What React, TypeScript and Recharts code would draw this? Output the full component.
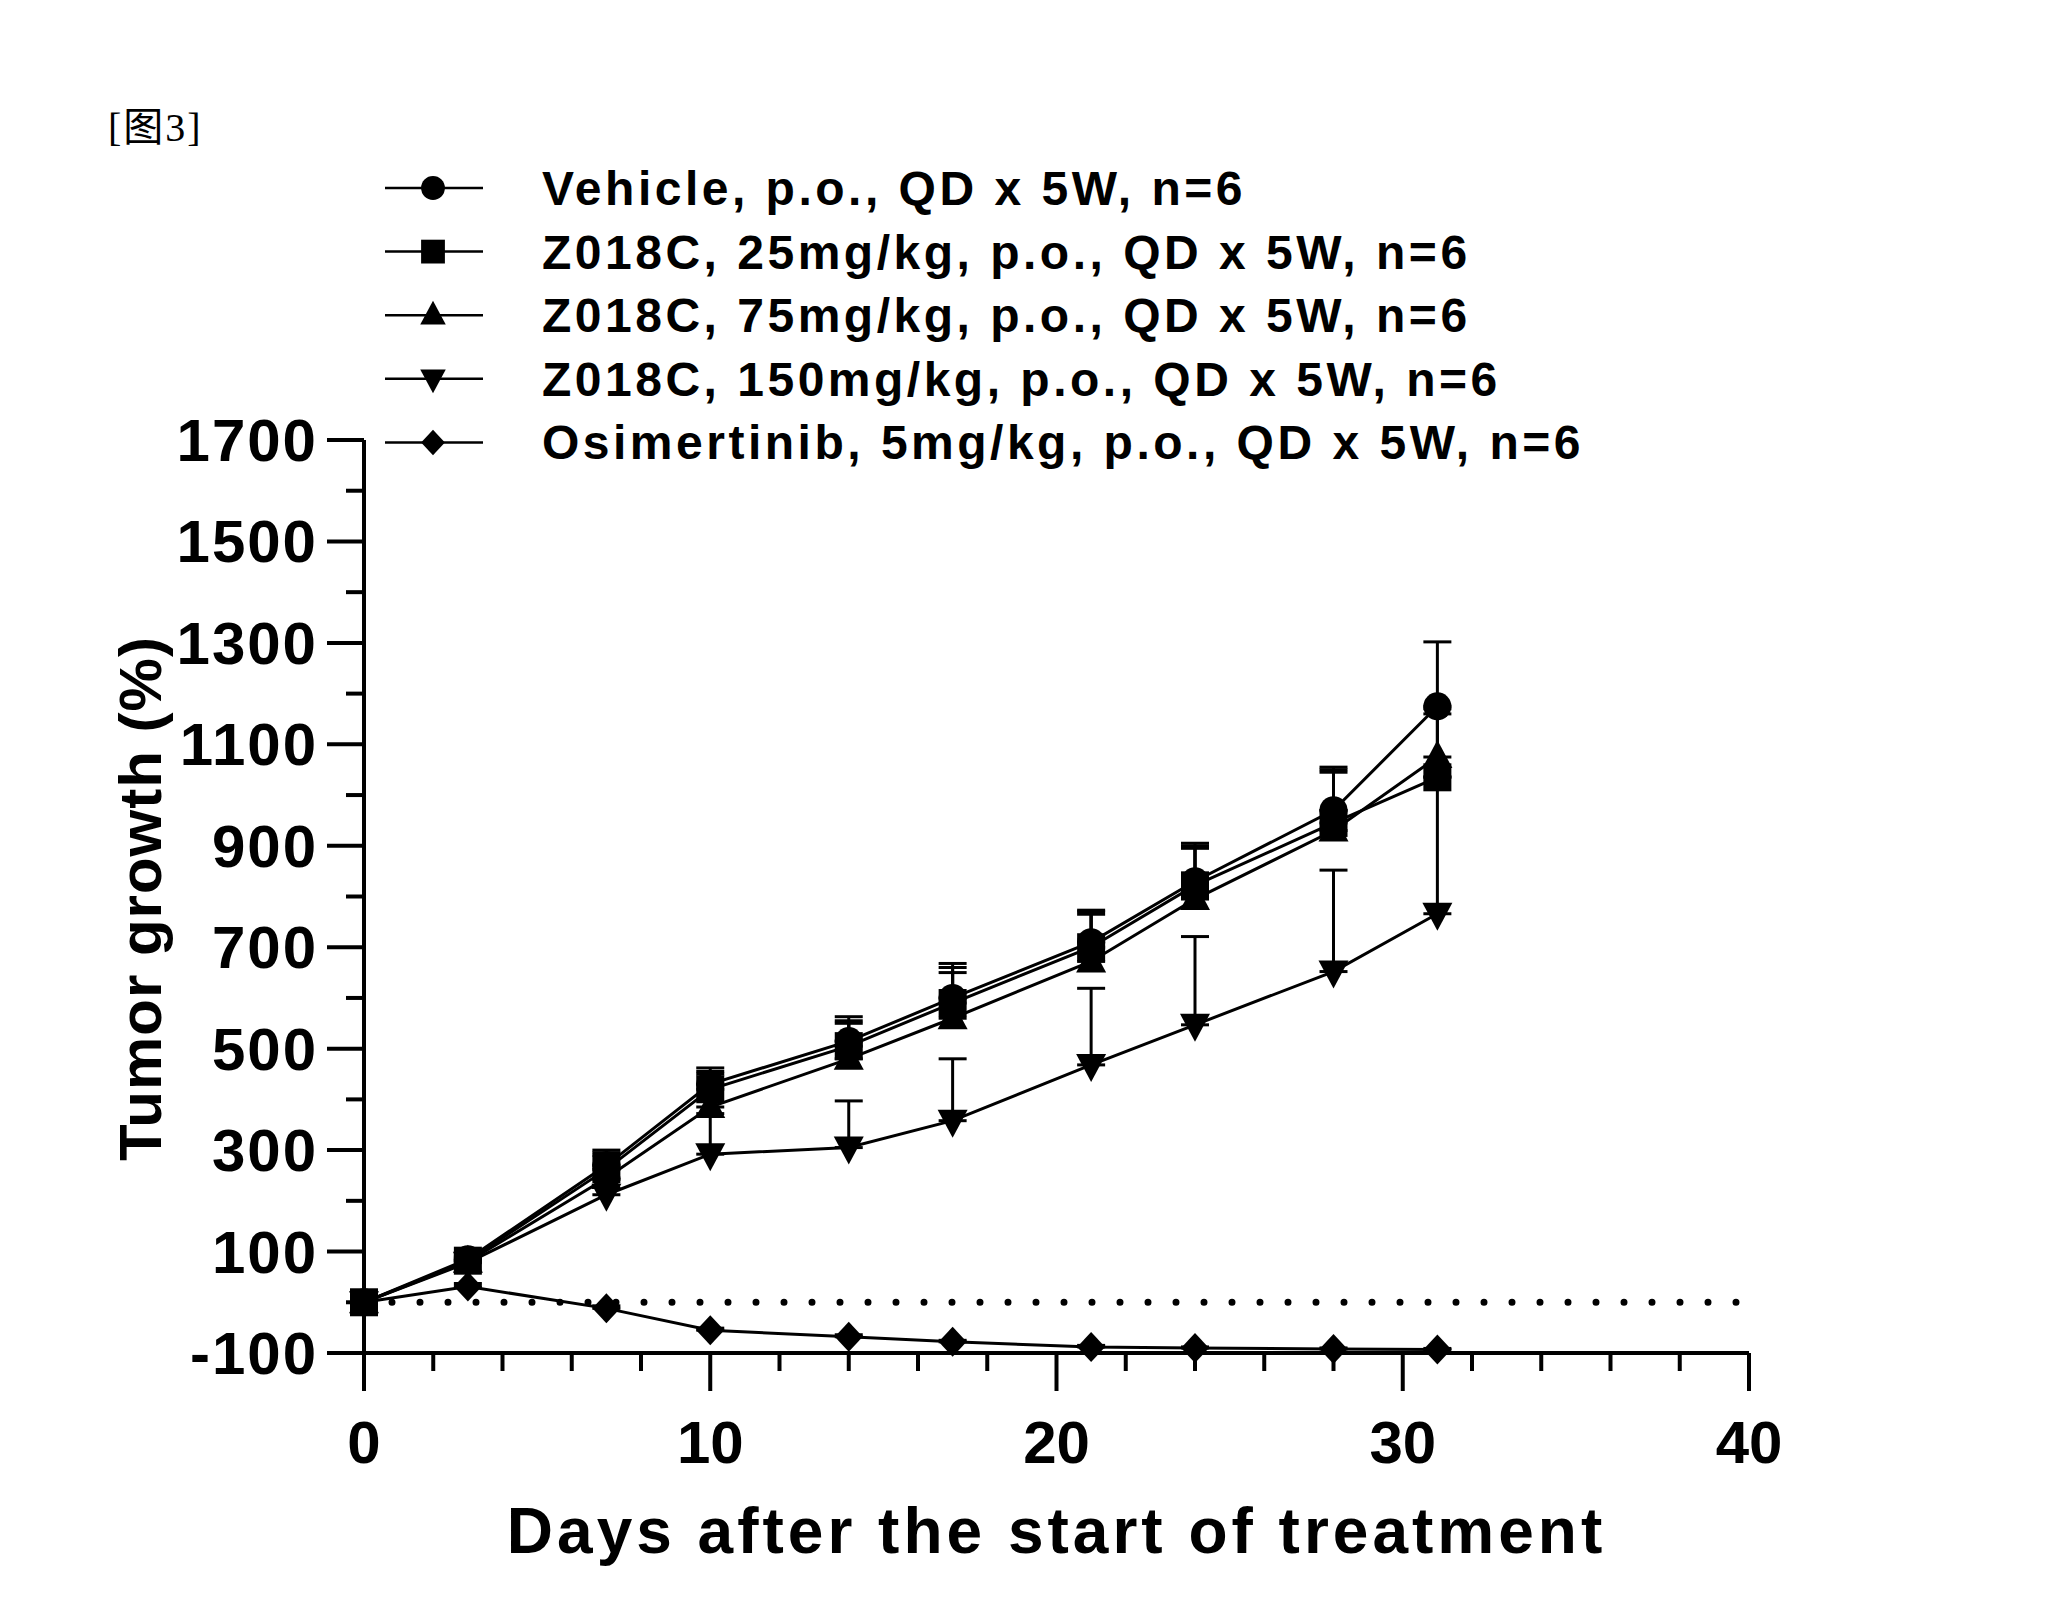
import React from "react";
import { ErrorBar, Line, LineChart, ReferenceLine, XAxis, YAxis } from "recharts";

// Tumor growth (%) by day after start of treatment, mean with upward SEM
const days = [0, 3, 7, 10, 14, 17, 21, 24, 28, 31];

const vehicle = [0, 85, 270, 430, 515, 600, 710, 830, 970, 1175];
const vehicleSem = [0, 10, 30, 32, 48, 68, 63, 75, 85, 127];

const z25 = [0, 82, 262, 420, 505, 590, 700, 822, 945, 1035];
const z25Sem = [0, 8, 33, 35, 50, 70, 70, 78, 105, 125];

const z75 = [0, 80, 245, 385, 480, 560, 672, 795, 930, 1075];
const z75Sem = [0, 8, 45, 65, 70, 90, 93, 100, 115, 95];

const z150 = [0, 78, 212, 292, 305, 358, 468, 547, 652, 766];
const z150Sem = [0, 5, 30, 80, 92, 122, 151, 174, 200, 270];

const osim = [0, 31, -12, -55, -68, -78, -88, -90, -92, -93];
const osimSem = [0, 6, 5, 4, 4, 3, 3, 2, 2, 2];

const xTicks = [0, 2, 4, 6, 8, 10, 12, 14, 16, 18, 20, 22, 24, 26, 28, 30, 32, 34, 36, 38, 40];
const yTicks = [-100, 0, 100, 200, 300, 400, 500, 600, 700, 800, 900, 1000, 1100, 1200, 1300, 1400, 1500, 1600, 1700];

type Shape = "circle" | "square" | "triangle" | "triangleDown" | "diamond";

const series: { key: string; name: string; shape: Shape }[] = [
  { key: "vehicle", name: "Vehicle, p.o., QD x 5W, n=6", shape: "circle" },
  { key: "z25", name: "Z018C, 25mg/kg, p.o., QD x 5W, n=6", shape: "square" },
  { key: "z75", name: "Z018C, 75mg/kg, p.o., QD x 5W, n=6", shape: "triangle" },
  { key: "z150", name: "Z018C, 150mg/kg, p.o., QD x 5W, n=6", shape: "triangleDown" },
  { key: "osim", name: "Osimertinib, 5mg/kg, p.o., QD x 5W, n=6", shape: "diamond" },
];

const rows = days.map((day, i) => ({
  day,
  vehicle: vehicle[i],
  vehicleErr: [0, vehicleSem[i]],
  z25: z25[i],
  z25Err: [0, z25Sem[i]],
  z75: z75[i],
  z75Err: [0, z75Sem[i]],
  z150: z150[i],
  z150Err: [0, z150Sem[i]],
  osim: osim[i],
  osimErr: [0, osimSem[i]],
}));

const FONT = "'Liberation Sans', Arial, sans-serif";

function Marker({ shape, cx, cy, s = 1 }: { shape: Shape; cx: number; cy: number; s?: number }) {
  switch (shape) {
    case "circle":
      return <circle cx={cx} cy={cy} r={14 * s} fill="#000" />;
    case "square":
      return <rect x={cx - 14 * s} y={cy - 14 * s} width={28 * s} height={28 * s} fill="#000" />;
    case "triangle":
      return (
        <polygon
          points={`${cx},${cy - 17 * s} ${cx - 15 * s},${cy + 11 * s} ${cx + 15 * s},${cy + 11 * s}`}
          fill="#000"
        />
      );
    case "triangleDown":
      return (
        <polygon
          points={`${cx - 15 * s},${cy - 11 * s} ${cx + 15 * s},${cy - 11 * s} ${cx},${cy + 17 * s}`}
          fill="#000"
        />
      );
    default:
      return (
        <polygon
          points={`${cx},${cy - 15 * s} ${cx + 14 * s},${cy} ${cx},${cy + 15 * s} ${cx - 14 * s},${cy}`}
          fill="#000"
        />
      );
  }
}

const dotFor = (shape: Shape) => (props: any) => {
  const { cx, cy, index } = props;
  if (cx == null || cy == null) return <g key={`${shape}-${index}`} />;
  return (
    <g key={`${shape}-${index}`}>
      <Marker shape={shape} cx={cx} cy={cy} />
    </g>
  );
};

function XTick(props: any) {
  const { x, y, payload } = props;
  const v = payload.value;
  const major = v % 10 === 0;
  return (
    <g>
      <line x1={x} x2={x} y1={y} y2={y + (major ? 38 : 18)} stroke="#000" strokeWidth={4} />
      {major && (
        <text x={x} y={y + 110} textAnchor="middle" fontFamily={FONT} fontWeight="bold" fontSize={60} fill="#000">
          {v}
        </text>
      )}
    </g>
  );
}

function YTick(props: any) {
  const { x, y, payload } = props;
  const v = payload.value;
  const major = (v + 100) % 200 === 0;
  return (
    <g>
      <line x1={x - (major ? 37 : 18)} x2={x} y1={y} y2={y} stroke="#000" strokeWidth={4} />
      {major && (
        <text
          x={x - 46}
          y={y + 21}
          textAnchor="end"
          fontFamily={FONT}
          fontWeight="bold"
          fontSize={60}
          letterSpacing={2}
          fill="#000"
        >
          {v}
        </text>
      )}
    </g>
  );
}

function Legend() {
  return (
    <g>
      {series.map((s, i) => {
        const cy = 188 + i * 63.6;
        return (
          <g key={s.key}>
            <line x1={385} x2={483} y1={cy} y2={cy} stroke="#000" strokeWidth={2.5} />
            <Marker shape={s.shape} cx={433} cy={cy} s={0.85} />
            <text
              x={542}
              y={cy + 17}
              fontFamily={FONT}
              fontWeight="bold"
              fontSize={48}
              letterSpacing={3.5}
              fill="#000"
            >
              {s.name}
            </text>
          </g>
        );
      })}
    </g>
  );
}

export default function App() {
  return (
    <div style={{ position: "absolute", left: 0, top: 0, width: 2059, height: 1623, background: "#fff" }}>
      <LineChart
        width={2059}
        height={1623}
        data={rows}
        margin={{ top: 440, right: 310, left: 104, bottom: 120 }}
      >
        <XAxis
          dataKey="day"
          type="number"
          domain={[0, 40]}
          ticks={xTicks}
          interval={0}
          height={150}
          tickSize={0}
          tickMargin={0}
          tickLine={false}
          tick={<XTick />}
          axisLine={{ stroke: "#000", strokeWidth: 4 }}
          label={{
            content: ({ viewBox }: any) => (
              <text
                x={viewBox.x + viewBox.width / 2}
                y={viewBox.y + 200}
                textAnchor="middle"
                fontFamily={FONT}
                fontWeight="bold"
                fontSize={64}
                letterSpacing={4}
                fill="#000"
              >
                Days after the start of treatment
              </text>
            ),
          }}
        />
        <YAxis
          type="number"
          domain={[-100, 1700]}
          ticks={yTicks}
          interval={0}
          width={260}
          tickSize={0}
          tickMargin={0}
          tickLine={false}
          tick={<YTick />}
          axisLine={{ stroke: "#000", strokeWidth: 4 }}
          label={{
            content: ({ viewBox }: any) => {
              const cx = viewBox.x + viewBox.width - 224;
              const cy = viewBox.y + viewBox.height / 2 + 2;
              return (
                <text
                  x={cx}
                  y={cy}
                  transform={`rotate(-90 ${cx} ${cy})`}
                  textAnchor="middle"
                  dominantBaseline="central"
                  fontFamily={FONT}
                  fontWeight="bold"
                  fontSize={60}
                  letterSpacing={1}
                  fill="#000"
                >
                  Tumor growth (%)
                </text>
              );
            },
          }}
        />
        <ReferenceLine
          y={0}
          stroke="#000"
          strokeWidth={7}
          strokeDasharray="0 28"
          strokeLinecap="round"
          ifOverflow="extendDomain"
        />
        {series.map((s) => (
          <Line
            key={s.key}
            dataKey={s.key}
            type="linear"
            stroke="#000"
            strokeWidth={3}
            dot={dotFor(s.shape)}
            activeDot={false}
            isAnimationActive={false}
          >
            <ErrorBar
              dataKey={`${s.key}Err`}
              direction="y"
              width={14}
              stroke="#000"
              strokeWidth={3}
              isAnimationActive={false}
            />
          </Line>
        ))}
      </LineChart>
      <svg
        width={2059}
        height={1623}
        style={{ position: "absolute", left: 0, top: 0, pointerEvents: "none" }}
      >
        <text
          x={108}
          y={141}
          fontFamily="'Liberation Serif', 'Noto Sans CJK SC', serif"
          fontSize={40}
          letterSpacing={2}
          fill="#000"
        >
          [图3]
        </text>
        <Legend />
      </svg>
    </div>
  );
}
